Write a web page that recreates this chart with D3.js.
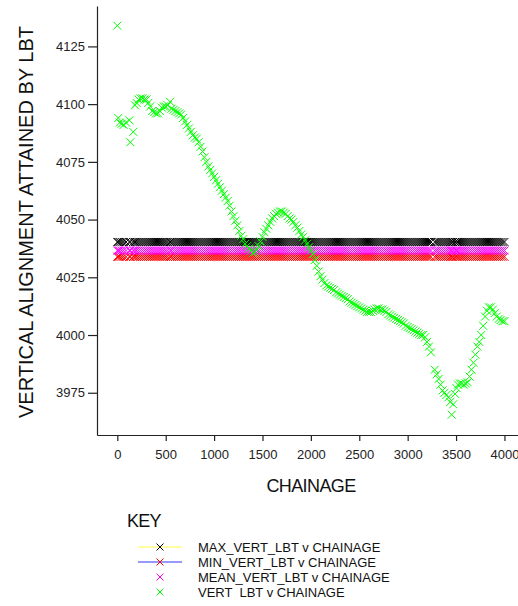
<!DOCTYPE html>
<html>
<head>
<meta charset="utf-8">
<script src="https://cdn.jsdelivr.net/npm/d3@7"></script>
<style>
  body { margin: 0; background: #fff; }
  svg { display: block; font-family: "Liberation Sans", Arial, sans-serif; }
</style>
</head>
<body>
<div id="chart"></div>
<script>
// chainage of each survey point (m)
const chainage = [
  0, 10, 25, 45, 65, 90, 125, 135, 165, 183, 200, 220, 240, 260, 280, 300, 320, 340, 360, 380,
  400, 420, 440, 460, 480, 500, 520, 545, 560, 580, 600, 620, 640, 660, 680, 700, 720, 740, 760, 780,
  800, 820, 840, 860, 880, 900, 920, 940, 960, 980, 1000, 1020, 1040, 1060, 1080, 1100, 1120, 1140, 1160, 1180,
  1200, 1220, 1240, 1260, 1280, 1300, 1320, 1340, 1360, 1380, 1400, 1420, 1440, 1460, 1480, 1500, 1520, 1540, 1560, 1580,
  1600, 1620, 1640, 1660, 1680, 1700, 1720, 1740, 1760, 1780, 1800, 1820, 1840, 1860, 1880, 1900, 1920, 1940, 1960, 1980,
  2000, 2020, 2040, 2060, 2080, 2100, 2120, 2140, 2160, 2180, 2200, 2220, 2240, 2260, 2280, 2300, 2320, 2340, 2360, 2380,
  2400, 2420, 2440, 2460, 2480, 2500, 2520, 2540, 2560, 2580, 2600, 2620, 2640, 2660, 2680, 2700, 2720, 2740, 2760, 2780,
  2800, 2820, 2840, 2860, 2880, 2900, 2920, 2940, 2960, 2980, 3000, 3020, 3040, 3060, 3080, 3100, 3120, 3140, 3160, 3180,
  3200, 3220, 3240, 3280, 3300, 3320, 3340, 3360, 3380, 3400, 3420, 3440, 3455, 3470, 3490, 3505, 3520, 3540, 3560, 3580,
  3600, 3620, 3640, 3660, 3680, 3700, 3720, 3740, 3760, 3780, 3800, 3820, 3840, 3860, 3880, 3900, 3920, 3940, 3960, 3980,
  4000
];

// VERT_LBT at each chainage
const vertLbt = [
  4134, 4094, 4092, 4091.5, 4091, 4092, 4093, 4083.5, 4088, 4099.5, 4100.5, 4102, 4102.5, 4102.5, 4102, 4102, 4100.5, 4099, 4097, 4096.5,
  4096, 4096, 4097, 4098.5, 4099, 4099, 4099.5, 4101, 4098, 4097.5, 4097, 4096.5, 4096, 4095.5, 4094, 4092.5, 4091, 4089.5, 4088, 4086.5,
  4085.5, 4085, 4083.5, 4081.5, 4079.5, 4077, 4075, 4073, 4071.5, 4070, 4068.5, 4067, 4065.5, 4064, 4062.5, 4061, 4059.5, 4058, 4056, 4053.5,
  4051.5, 4049.5, 4047.5, 4045, 4043, 4041.5, 4039.5, 4038.5, 4037.5, 4036.5, 4035.5, 4036, 4037, 4038.5, 4040.5, 4042.5, 4044.5, 4046, 4047.5, 4049,
  4050.5, 4051.5, 4052.5, 4053, 4053.5, 4053.5, 4053, 4052.5, 4051.5, 4050.5, 4050, 4049, 4047.5, 4046.5, 4045, 4043.5, 4042.5, 4041, 4039.5, 4038,
  4036.5, 4035, 4032.5, 4030, 4027.5, 4025.5, 4024, 4022.5, 4021.5, 4021, 4020.5, 4020, 4019.5, 4018.5, 4018, 4017.5, 4017, 4016.5, 4016, 4015.5,
  4014.5, 4014, 4013.5, 4013, 4012.5, 4012, 4011.5, 4011, 4010.5, 4010, 4010, 4010, 4010.5, 4011, 4011.5, 4011.5, 4011, 4011, 4010.5, 4010,
  4009, 4008.5, 4008, 4007.5, 4007, 4006.5, 4006, 4005.5, 4005, 4004, 4003.5, 4003, 4002.5, 4002, 4001.5, 4001, 4000.5, 4000, 4000, 3999,
  3997, 3995, 3992.5, 3985, 3983, 3981, 3978.5, 3976, 3975, 3974, 3973, 3971, 3965.5, 3970, 3974.5, 3977, 3978.5, 3979, 3979, 3978.5,
  3979, 3979.5, 3982, 3985, 3988, 3991.5, 3995, 3997, 4000, 4004, 4008, 4010.5, 4012, 4012, 4011, 4009.5, 4008, 4007, 4006.5, 4006,
  4006
];

// constant reference levels
const maxVert = 4040.3;
const meanVert = 4036.6;
const minVert = 4033.9;

const xTicks = [0, 500, 1000, 1500, 2000, 2500, 3000, 3500, 4000];
const yTicks = [3975, 4000, 4025, 4050, 4075, 4100, 4125];

const seriesNames = ["MAX_VERT_LBT v CHAINAGE", "MIN_VERT_LBT v CHAINAGE", "MEAN_VERT_LBT v CHAINAGE", "VERT  LBT v CHAINAGE"];
const markerColors = ["#000000", "#ff0000", "#ff00ff", "#00ff00"];
const legendLines = ["#ffff44", "#3333ff", null, null];

const width = 518, height = 606;

const svg = d3.select("#chart").append("svg")
  .attr("width", width)
  .attr("height", height);

const x = d3.scaleLinear().domain([-210, 4140]).range([97, 518]);
const y = d3.scaleLinear().domain([3956.7, 4142.5]).range([435, 6]);

const cross = (r) => `M${-r},${-r}L${r},${r}M${-r},${r}L${r},${-r}`;

// series data, drawn in legend order
const series = [
  chainage.map(c => ({ c, v: maxVert })),
  chainage.map(c => ({ c, v: minVert })),
  chainage.map(c => ({ c, v: meanVert })),
  chainage.map((c, i) => ({ c, v: vertLbt[i] }))
];

series.forEach((data, k) => {
  svg.append("g")
    .selectAll("path")
    .data(data)
    .enter()
    .append("path")
      .attr("d", cross(4))
      .attr("transform", d => `translate(${x(d.c)},${y(d.v)})`)
      .attr("fill", "none")
      .attr("stroke", markerColors[k])
      .attr("stroke-width", 1);
});

// X axis
const xAxis = svg.append("g")
  .attr("transform", `translate(0,${y.range()[0]})`)
  .call(d3.axisBottom(x).tickValues(xTicks).tickFormat(d3.format("d"))
    .tickSize(6).tickPadding(9).tickSizeOuter(0));

// Y axis
const yAxis = svg.append("g")
  .attr("transform", `translate(${x.range()[0]},0)`)
  .call(d3.axisLeft(y).tickValues(yTicks).tickFormat(d3.format("d"))
    .tickSize(9).tickPadding(3).tickSizeOuter(0));

[xAxis, yAxis].forEach(g => {
  g.selectAll("path, line").attr("stroke", "#222").attr("stroke-width", 1.2);
  g.selectAll("text")
    .attr("fill", "#222")
    .style("font-size", "13px")
    .style("font-family", "'Liberation Sans', Arial, sans-serif");
});

// axis titles
svg.append("text")
  .attr("x", 311)
  .attr("y", 492)
  .attr("text-anchor", "middle")
  .attr("fill", "#111")
  .style("font-size", "18px")
  .style("letter-spacing", "-0.6px")
  .text("CHAINAGE");

svg.append("text")
  .attr("transform", "translate(33,222) rotate(-90)")
  .attr("text-anchor", "middle")
  .attr("fill", "#111")
  .style("font-size", "20px")
  .text("VERTICAL ALIGNMENT ATTAINED BY LBT");

// Legend
svg.append("text")
  .attr("x", 127)
  .attr("y", 527)
  .attr("fill", "#111")
  .style("font-size", "18px")
  .style("letter-spacing", "-0.8px")
  .text("KEY");

const legend = svg.append("g")
  .selectAll("g")
  .data(seriesNames)
  .enter()
  .append("g")
    .attr("transform", (d, i) => `translate(0,${547 + i * 15})`);

legend.filter((d, i) => legendLines[i])
  .append("line")
    .attr("x1", 138).attr("x2", 182)
    .attr("stroke", d => legendLines[seriesNames.indexOf(d)])
    .attr("stroke-width", 1.2);

legend.append("path")
  .attr("d", cross(3.5))
  .attr("transform", "translate(160,0)")
  .attr("fill", "none")
  .attr("stroke", (d, i) => markerColors[i])
  .attr("stroke-width", 1);

legend.append("text")
  .attr("x", 198)
  .attr("dy", "0.35em")
  .attr("fill", "#111")
  .style("font-size", "13px")
  .style("white-space", "pre")
  .text(d => d);
</script>
</body>
</html>
